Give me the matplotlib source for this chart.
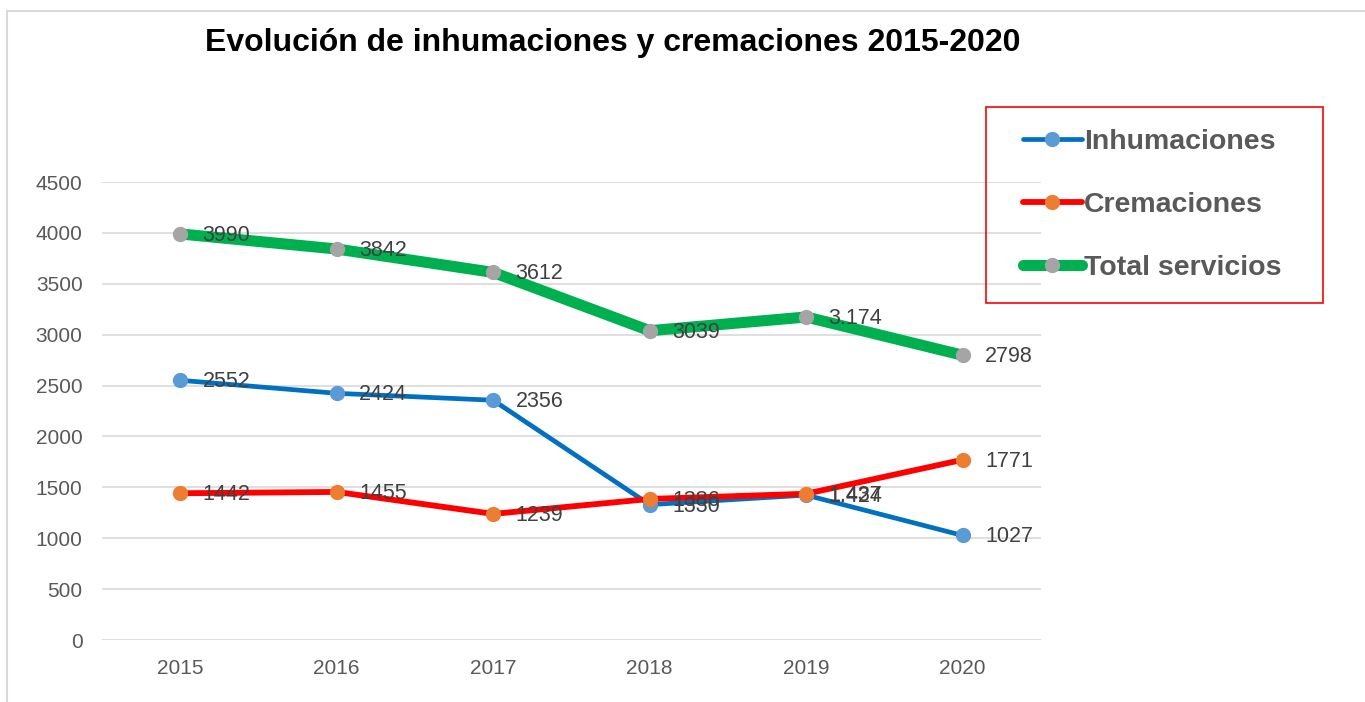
import matplotlib.pyplot as plt
from matplotlib.lines import Line2D
from matplotlib.patches import Rectangle

# datos
anios = ["2015", "2016", "2017", "2018", "2019", "2020"]
inhumaciones = [2552, 2424, 2356, 1330, 1424, 1027]
cremaciones = [1442, 1455, 1239, 1386, 1437, 1771]
total = [3990, 3842, 3612, 3039, 3174, 2798]

et_inhum = ["2552", "2424", "2356", "1330", "1.424", "1027"]
et_crem = ["1442", "1455", "1239", "1386", "1.437", "1771"]
et_total = ["3990", "3842", "3612", "3039", "3.174", "2798"]

plt.rcParams['font.family'] = ['Liberation Sans', 'DejaVu Sans']

fig = plt.figure(figsize=(13.65, 7.02), dpi=100)
ax = fig.add_axes([0.0747, 0.0883, 0.6879, 0.6524])

x = list(range(len(anios)))

series = [
    (inhumaciones, et_inhum, "Inhumaciones", "#0070C0", "#5B9BD5", 3.4),
    (cremaciones, et_crem, "Cremaciones", "#FF0000", "#ED7D31", 4.2),
    (total, et_total, "Total servicios", "#00B050", "#A5A5A5", 8.0),
]

handles = []
for vals, etiquetas, nombre, color, mcolor, lw in series:
    ax.plot(x, vals, color=color, lw=lw, solid_capstyle='round', zorder=3)
    ax.plot(x, vals, 'o', ms=10, color=mcolor, zorder=4)
    for xi, v, t in zip(x, vals, etiquetas):
        ax.annotate(t, (xi, v), xytext=(16, -1), textcoords='offset points',
                    ha='left', va='center', fontsize=15.5, color='#404040', zorder=5)
    handles.append(Line2D([0], [0], color=color, lw=lw, solid_capstyle='round',
                          marker='o', ms=10, markerfacecolor=mcolor,
                          markeredgecolor=mcolor))

ax.set_xlim(-0.5, 5.5)
ax.set_ylim(0, 4500)
ax.set_yticks(range(0, 4501, 500))
ax.set_xticks(x)
ax.set_xticklabels(anios)
ax.grid(axis='y', color='#D9D9D9', lw=1.2, zorder=0)
ax.set_axisbelow(True)
for s in ax.spines.values():
    s.set_visible(False)
ax.tick_params(length=0, labelsize=15, labelcolor='#595959')
ax.tick_params(axis='y', pad=14)
ax.tick_params(axis='x', pad=14)

fig.text(0.449, 0.939, "Evolución de inhumaciones y cremaciones 2015-2020",
         ha='center', va='center', fontsize=23, fontweight='bold', color='black')

# marco del gráfico
marco = Rectangle((7 / 1365, -0.05), 1.1, 1 - 11 / 702 + 0.05, fill=False,
                  edgecolor='#D9D9D9', lw=1.5, transform=fig.transFigure, figure=fig)
fig.patches.append(marco)

# leyenda con marco rojo
caja = Rectangle((986 / 1365, 1 - 303 / 702), 337 / 1365, 196 / 702, fill=False,
                 edgecolor='#FF0000', lw=1.2, transform=fig.transFigure, figure=fig)
fig.patches.append(caja)
leg = fig.legend(handles, [s[2] for s in series], loc='center left',
                 bbox_to_anchor=(1009 / 1365, 1 - 205 / 702), frameon=False,
                 prop={'size': 20.5, 'weight': 'bold'}, handlelength=2.05,
                 handletextpad=0.08, labelspacing=1.3, borderpad=0)
for t in leg.get_texts():
    t.set_color('#595959')

plt.savefig('out.png', dpi=100)
